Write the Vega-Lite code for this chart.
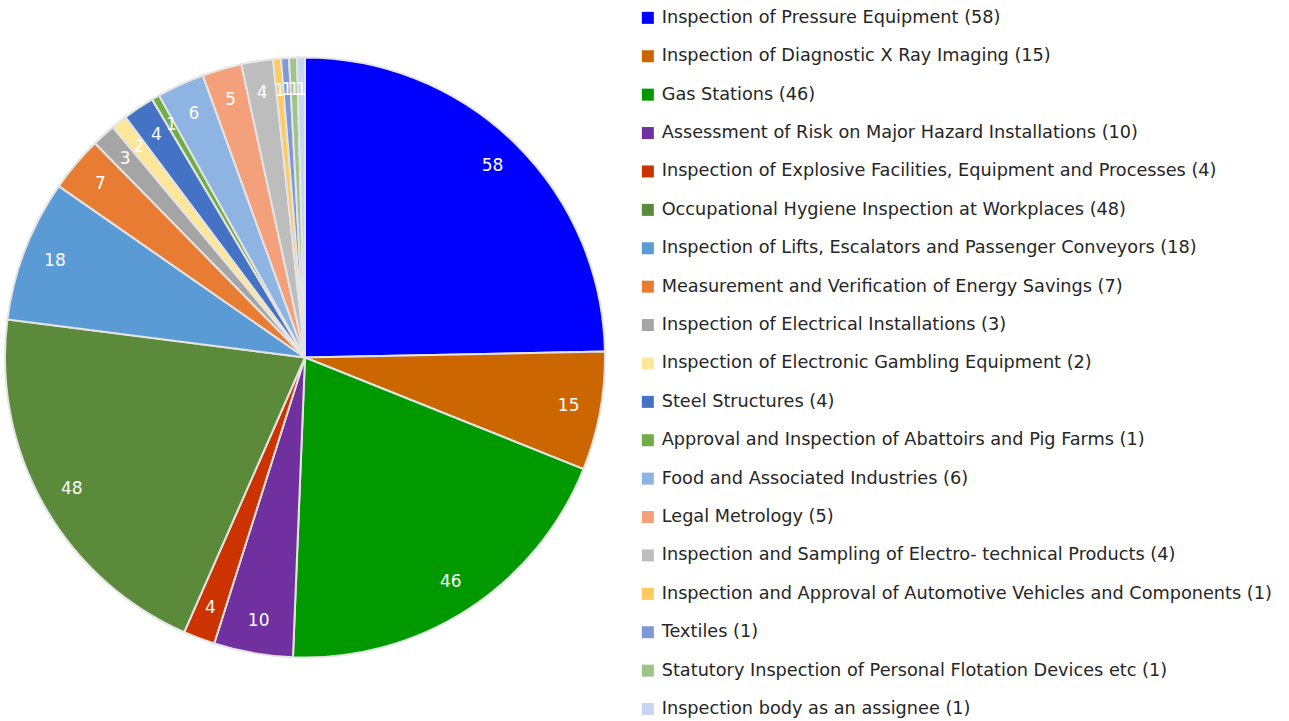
{
  "$schema": "https://vega.github.io/schema/vega-lite/v6.json",
  "width": 610,
  "height": 715,
  "padding": 0,
  "autosize": {"type": "pad"},
  "background": "white",
  "config": {"view": {"stroke": null}},
  "data": {
    "values": [
      {"i": 1, "cat": "Inspection of Pressure Equipment (58)", "n": 58},
      {"i": 2, "cat": "Inspection of Diagnostic X Ray Imaging (15)", "n": 15},
      {"i": 3, "cat": "Gas Stations (46)", "n": 46},
      {"i": 4, "cat": "Assessment of Risk on Major Hazard Installations (10)", "n": 10},
      {"i": 5, "cat": "Inspection of Explosive Facilities, Equipment and Processes (4)", "n": 4},
      {"i": 6, "cat": "Occupational Hygiene Inspection at Workplaces (48)", "n": 48},
      {"i": 7, "cat": "Inspection of Lifts, Escalators and Passenger Conveyors (18)", "n": 18},
      {"i": 8, "cat": "Measurement and Verification of Energy Savings (7)", "n": 7},
      {"i": 9, "cat": "Inspection of Electrical Installations (3)", "n": 3},
      {"i": 10, "cat": "Inspection of Electronic Gambling Equipment (2)", "n": 2},
      {"i": 11, "cat": "Steel Structures (4)", "n": 4},
      {"i": 12, "cat": "Approval and Inspection of Abattoirs and Pig Farms (1)", "n": 1},
      {"i": 13, "cat": "Food and Associated Industries (6)", "n": 6},
      {"i": 14, "cat": "Legal Metrology (5)", "n": 5},
      {"i": 15, "cat": "Inspection and Sampling of Electro- technical Products (4)", "n": 4},
      {"i": 16, "cat": "Inspection and Approval of Automotive Vehicles and Components (1)", "n": 1},
      {"i": 17, "cat": "Textiles (1)", "n": 1},
      {"i": 18, "cat": "Statutory Inspection of Personal Flotation Devices etc (1)", "n": 1},
      {"i": 19, "cat": "Inspection body as an assignee (1)", "n": 1}
    ]
  },
  "encoding": {
    "theta": {"field": "n", "type": "quantitative", "stack": true},
    "order": {"field": "i", "type": "quantitative"}
  },
  "layer": [
    {
      "mark": {"type": "arc", "outerRadius": 300, "stroke": "#e4e4e4", "strokeWidth": 2},
      "encoding": {
        "color": {
          "field": "cat",
          "type": "nominal",
          "scale": {
            "domain": [
              "Inspection of Pressure Equipment (58)",
              "Inspection of Diagnostic X Ray Imaging (15)",
              "Gas Stations (46)",
              "Assessment of Risk on Major Hazard Installations (10)",
              "Inspection of Explosive Facilities, Equipment and Processes (4)",
              "Occupational Hygiene Inspection at Workplaces (48)",
              "Inspection of Lifts, Escalators and Passenger Conveyors (18)",
              "Measurement and Verification of Energy Savings (7)",
              "Inspection of Electrical Installations (3)",
              "Inspection of Electronic Gambling Equipment (2)",
              "Steel Structures (4)",
              "Approval and Inspection of Abattoirs and Pig Farms (1)",
              "Food and Associated Industries (6)",
              "Legal Metrology (5)",
              "Inspection and Sampling of Electro- technical Products (4)",
              "Inspection and Approval of Automotive Vehicles and Components (1)",
              "Textiles (1)",
              "Statutory Inspection of Personal Flotation Devices etc (1)",
              "Inspection body as an assignee (1)"
            ],
            "range": [
              "#0000FF", "#CC6600", "#009900", "#7030A0", "#CC3300", "#5B8A3A",
              "#5B9BD5", "#E97C33", "#A5A5A5", "#FFE699", "#4472C4", "#70AD47",
              "#8DB4E2", "#F4A07A", "#BDBDBD", "#FFCA5F", "#7F98D6", "#9DC58A", "#C5D6EE"
            ]
          },
          "legend": {
            "title": null,
            "orient": "none",
            "legendX": 639,
            "legendY": 9,
            "padding": 0,
            "symbolType": "square",
            "symbolSize": 144,
            "symbolStrokeWidth": 0,
            "labelFont": "DejaVu Sans",
            "labelFontSize": 17.7,
            "labelColor": "#262626",
            "labelOffset": 5,
            "labelLimit": 700,
            "rowPadding": 19.4,
            "encode": {
              "labels": {
                "update": {
                  "fill": {"signal": "datum.label === 'Gas Stations (46)' ? '#14a014' : '#262626'"}
                }
              }
            }
          }
        }
      }
    },
    {
      "mark": {"type": "text", "radius": 268, "font": "DejaVu Sans", "fontSize": 17, "fill": "white"},
      "encoding": {
        "text": {"field": "n", "type": "quantitative"}
      }
    }
  ]
}
